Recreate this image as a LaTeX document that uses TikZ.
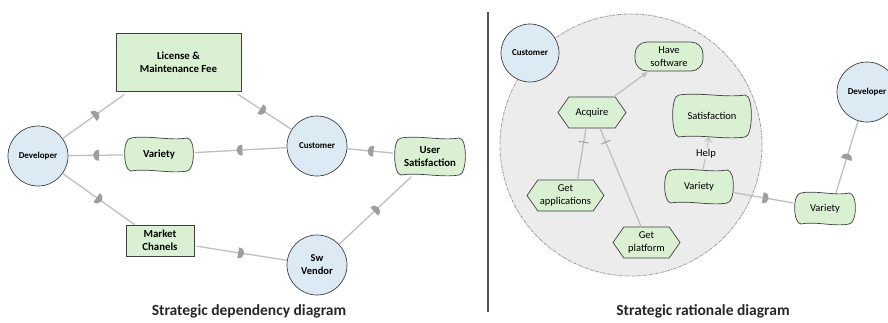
\documentclass[tikz,border=0pt]{standalone}
\usepackage{fontspec}
\setmainfont{Carlito}
\usetikzlibrary{shapes.symbols,arrows.meta,decorations.markings}

\definecolor{goalgreen}{HTML}{D9F1D2}
\definecolor{actorblue}{HTML}{DBEAF3}
\definecolor{edgegray}{HTML}{BFBFBF}
\definecolor{markgray}{HTML}{9E9E9E}
\definecolor{linedark}{HTML}{3F3F3F}
\definecolor{boundgray}{HTML}{ECECEC}
\definecolor{bounddash}{HTML}{9A9A9A}

\tikzset{
  actor/.style={circle, draw=linedark, line width=0.7pt, fill=actorblue,
    minimum size=60pt, inner sep=0pt, align=center,
    font=\bfseries\fontsize{9}{10.5}\selectfont},
  resource/.style={rectangle, draw=linedark, line width=0.8pt, fill=goalgreen,
    inner sep=0pt, align=center, font=\bfseries\fontsize{10.8}{13}\selectfont},
  sglabel/.style={rectangle, inner sep=0pt, align=center},
  sgshape/.style={draw=linedark, line width=0.7pt, fill=goalgreen},
  task/.style={signal, signal to=west and east, signal pointer angle=110,
    draw=linedark, line width=0.7pt, fill=goalgreen, inner sep=0pt,
    align=center, font=\fontsize{10.5}{12.5}\selectfont},
  goal/.style={rectangle, rounded corners=12pt, draw=linedark, line width=0.7pt,
    fill=goalgreen, inner sep=0pt, align=center, font=\fontsize{10.5}{12.5}\selectfont},
  boundary/.style={circle, draw=bounddash, line width=0.8pt, fill=boundgray,
    dash pattern=on 3pt off 1pt on 1pt off 1pt, inner sep=0pt},
  link/.style={draw=edgegray, line width=1.3pt},
  dep/.style={link, postaction={decorate}, decoration={markings,
    mark=at position #1 with {\fill[markgray] (-2.5,-5.5) -- (-2.5,5.5)
      .. controls (5.5,5.5) and (5.5,-5.5) .. (-2.5,-5.5);}}},
  dep/.default=0.5,
  decomp/.style={link, postaction={decorate}, decoration={markings,
    mark=at position #1 with {\draw[markgray, line width=1pt] (0,-5) -- (0,5);}}},
  decomp/.default=0.8,
  caption/.style={font=\bfseries\fontsize{15.5}{18}\selectfont, text=black!85},
}

% softgoal: wavy-edged box drawn around a text node
% \softgoal[font]{name}{x}{y}{width}{height}{text}
\newcommand\softgoal[7][]{%
  \path[sgshape, shift={(#3,#4)}]
    ({-#5/2+6},{-#6/2}) .. controls ({-#5/6},{-#6/2-3}) and ({#5/6},{-#6/2+3}) .. ({#5/2-6},{-#6/2})
    .. controls ({#5/2+3},{-#6/2}) and ({#5/2+2},{#6/2}) .. ({#5/2-6},{#6/2})
    .. controls ({#5/6},{#6/2+3}) and ({-#5/6},{#6/2-3}) .. ({-#5/2+6},{#6/2})
    .. controls ({-#5/2-2},{#6/2}) and ({-#5/2-3},{-#6/2}) .. cycle;
  \node[sglabel, font=#1, minimum width=#5pt, minimum height=#6pt] (#2) at (#3,#4) {#7};%
}

\begin{document}
\begin{tikzpicture}[x=1pt, y=-1pt]
\useasboundingbox (0,0) rectangle (888,322);

% ---------- strategic dependency diagram ----------
\node[actor] (dev1) at (38,156) {Developer};
\node[resource, minimum width=125pt, minimum height=58pt] (lic) at (178.5,62) {License \&\\Maintenance Fee};
\softgoal[\bfseries\fontsize{10.8}{13}\selectfont]{var1}{159}{154.5}{68}{33}{Variety}
\node[resource, minimum width=68pt, minimum height=31pt] (mkt) at (160,240.5) {Market\\Chanels};
\node[actor] (cust1) at (317,146) {Customer};
\node[actor, font=\bfseries\fontsize{10.5}{13}\selectfont] (vend) at (317,265) {Sw\\Vendor};
\softgoal[\bfseries\fontsize{10.8}{13}\selectfont]{usat}{430}{156.5}{70}{37}{User\\Satisfaction}

\draw[dep, shorten >=5pt] (dev1) -- ([xshift=13pt]lic.south west);
\draw[dep, shorten <=5pt] ([xshift=-8pt]lic.south east) -- (cust1);
\draw[dep, shorten >=2pt] (cust1) -- (var1);
\draw[dep, shorten <=2pt] (var1) -- (dev1);
\draw[dep] (dev1) -- ([xshift=9pt]mkt.north west);
\draw[dep, shorten <=2pt] (mkt) -- (vend);
\draw[dep, shorten <=2pt] (usat) -- (cust1);
\draw[dep, shorten >=2pt] (vend) -- ([xshift=-17pt]usat.south);

\node[caption] (cap1) at (249,311) {Strategic dependency diagram};

\draw[linedark!90, line width=1.2pt] (488,12) -- (488,312);

% ---------- strategic rationale diagram ----------
\node[boundary, minimum size=262pt] (bnd) at (631,145) {};
\node[actor, minimum size=58pt] (cust2) at (530,53) {Customer};
\node[goal, minimum width=68pt, minimum height=29pt] (have) at (669,56.5) {Have\\software};
\node[task, minimum width=68pt, minimum height=31pt] (acq) at (592,112.5) {Acquire};
\node[task, minimum width=77pt, minimum height=31pt] (getapp) at (565.5,195.5) {Get\\applications};
\node[task, minimum width=67pt, minimum height=31pt] (getplat) at (646.5,242.5) {Get\\platform};
\softgoal[\fontsize{10.5}{12.5}\selectfont]{sat}{712}{116}{78}{42}{Satisfaction}
\softgoal[\fontsize{10.5}{12.5}\selectfont]{var2}{699}{186.5}{68}{33}{Variety}
\softgoal[\fontsize{10.5}{12.5}\selectfont]{var3}{825}{208.5}{60}{31}{Variety}
\node[actor] (dev2) at (867,92) {Developer};

\draw[link, -{Triangle[length=6pt, width=5pt]}, shorten >=1pt] (acq) -- (have);
\draw[decomp=0.73] ([xshift=12pt]getapp.north) -- ([xshift=-6pt]acq.south);
\draw[decomp=0.86] ([xshift=-5.5pt]getplat.north) -- ([xshift=8pt]acq.south);
\draw[link, line width=1pt, -{Straight Barb[length=4pt, width=7pt]}]
  ([xshift=4pt]var2.north) -- ([xshift=-3pt]sat.south)
  node[pos=0.5, fill=boundgray, inner sep=1pt, font=\fontsize{10.5}{12.5}\selectfont] (help) {Help};
\draw[dep=0.52, shorten >=2pt] (var2) -- (var3);
\draw[dep] ([xshift=11pt]var3.north) -- (dev2);

\node[caption] (cap2) at (703,311) {Strategic rationale diagram};
\end{tikzpicture}
\end{document}
